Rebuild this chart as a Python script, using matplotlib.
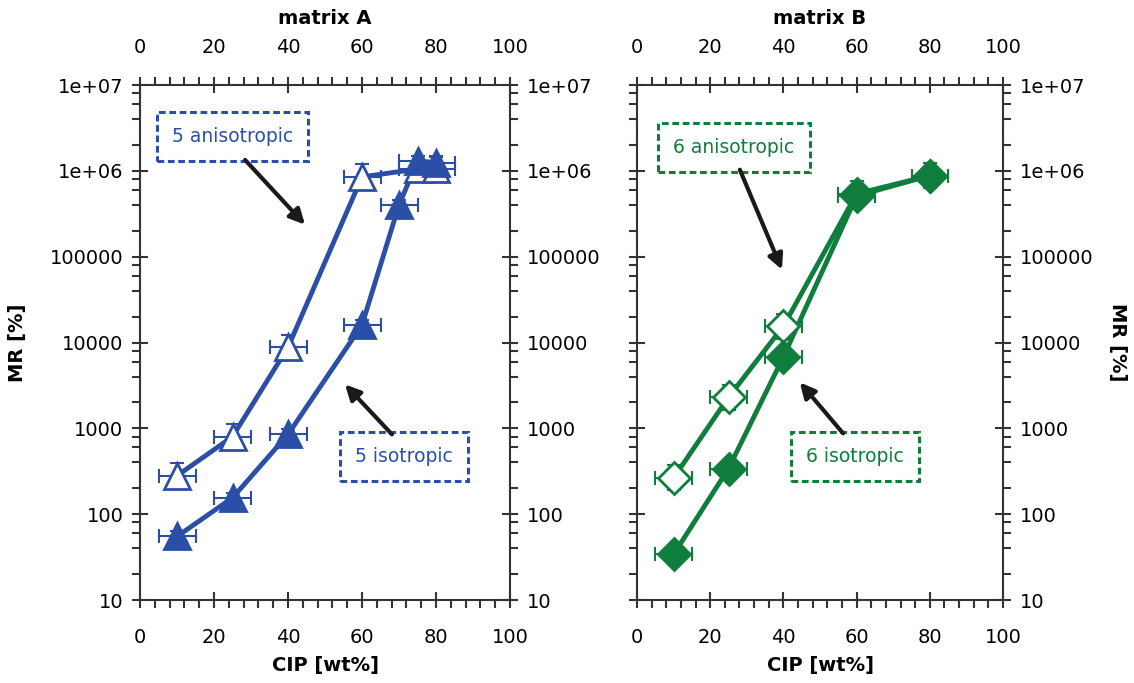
import matplotlib
matplotlib.use('Agg')
import matplotlib.pyplot as plt
from matplotlib.ticker import MultipleLocator, LogLocator, FixedFormatter, FixedLocator, NullFormatter

# matrix A (triangles)
a_x_aniso = [10, 25, 40, 60, 75, 80]
a_y_aniso = [280, 800, 8800, 850000, 1050000, 1050000]
a_x_iso = [10, 25, 40, 60, 70, 75, 80]
a_y_iso = [55, 155, 850, 16000, 400000, 1300000, 1250000]

# matrix B (diamonds)
b_x_aniso = [10, 25, 40, 60, 80]
b_y_aniso = [265, 2300, 15500, 540000, 880000]
b_x_iso = [10, 25, 40, 60, 80]
b_y_iso = [34, 340, 6800, 510000, 880000]

x_err = 5
blue = '#2b4fa6'
green = '#0f7d3c'
fs = 14

decades = [10, 100, 1000, 10000, 100000, 1000000, 10000000]
decade_labels = ['10', '100', '1000', '10000', '100000', '1e+06', '1e+07']

fig = plt.figure(figsize=(11.34, 6.83), dpi=100)
ax1 = fig.add_axes([140 / 1134, 1 - 600 / 683, 370 / 1134, 515 / 683])
ax2 = fig.add_axes([637 / 1134, 1 - 600 / 683, 366 / 1134, 515 / 683])


def series(ax, x, y, color, marker, filled, rel_err, ms):
    ax.plot(x, y, color=color, lw=3.5, zorder=2)
    ax.errorbar(x, y, xerr=x_err, yerr=[[v * rel_err / (1 + rel_err) for v in y],
                                        [v * rel_err for v in y]],
                fmt='none', ecolor=color, elinewidth=1.5, capsize=5, capthick=1.5, zorder=3)
    ax.plot(x, y, ls='none', marker=marker, ms=ms, mec=color, mew=2,
            mfc=color if filled else 'white', zorder=4 if filled else 3.5)


def style(ax, title, left_side, right_side):
    ax.set_yscale('log')
    ax.set_xlim(0, 100)
    ax.set_ylim(10, 1e7)
    for s in ax.spines.values():
        s.set_linewidth(1.5)
        s.set_color('#333333')
    ax.xaxis.set_major_locator(MultipleLocator(20))
    ax.xaxis.set_minor_locator(MultipleLocator(4))
    ax.yaxis.set_major_locator(FixedLocator(decades))
    ax.yaxis.set_major_formatter(FixedFormatter(decade_labels))
    ax.yaxis.set_minor_locator(LogLocator(base=10, subs=[2, 4, 6, 8]))
    ax.yaxis.set_minor_formatter(NullFormatter())
    ax.tick_params(which='major', direction='inout', length=12, width=1.5, color='#333333',
                   labelsize=fs, top=True, right=True, labeltop=True,
                   labelleft=left_side, labelright=right_side, pad=6)
    ax.tick_params(axis='x', which='major', pad=14)
    ax.tick_params(which='minor', direction='out', length=6, width=1.5, color='#333333',
                   top=True, right=True)
    ax.set_xlabel('CIP [wt%]', fontsize=fs, fontweight='bold', labelpad=7)
    ax.set_title(title, fontsize=fs, fontweight='bold', pad=44)


def note(ax, text, xy_box, tail, head, color):
    ax.text(xy_box[0], xy_box[1], text, color=color, fontsize=13.5, ha='center', va='center',
            bbox=dict(boxstyle='square,pad=0.8', fc='white', ec=color, lw=2.2, ls=(0, (2.2, 1.2))),
            zorder=5)
    ax.annotate('', xy=head, xytext=tail,
                arrowprops=dict(arrowstyle='-|>,head_length=0.9,head_width=0.45', color='#1a1a1a',
                                lw=3, shrinkA=0, shrinkB=0), zorder=5)


series(ax1, a_x_aniso, a_y_aniso, blue, '^', False, 0.4, 19)
series(ax1, a_x_iso, a_y_iso, blue, '^', True, 0.15, 19)
series(ax2, b_x_aniso, b_y_aniso, green, 'D', False, 0.4, 16)
series(ax2, b_x_iso, b_y_iso, green, 'D', True, 0.15, 16)

style(ax1, 'matrix A', True, True)
style(ax2, 'matrix B', False, True)

ax1.set_ylabel('MR [%]', fontsize=fs, fontweight='bold', labelpad=16)
ax2.yaxis.set_label_position('right')
ax2.set_ylabel('MR [%]', fontsize=fs, fontweight='bold', rotation=270, labelpad=24)

note(ax1, '5 anisotropic', (25.1, 2.48e6), (28.4, 1.34e6), (44.6, 2.36e5), blue)
note(ax1, '5 isotropic', (71.4, 472), (68.1, 851), (55.4, 3250), blue)
note(ax2, '6 anisotropic', (26.5, 1.85e6), (28.1, 1.03e6), (39.6, 7.06e4), green)
note(ax2, '6 isotropic', (59.6, 472), (56.3, 875), (44.5, 3430), green)

fig.savefig('out.png', dpi=100)
